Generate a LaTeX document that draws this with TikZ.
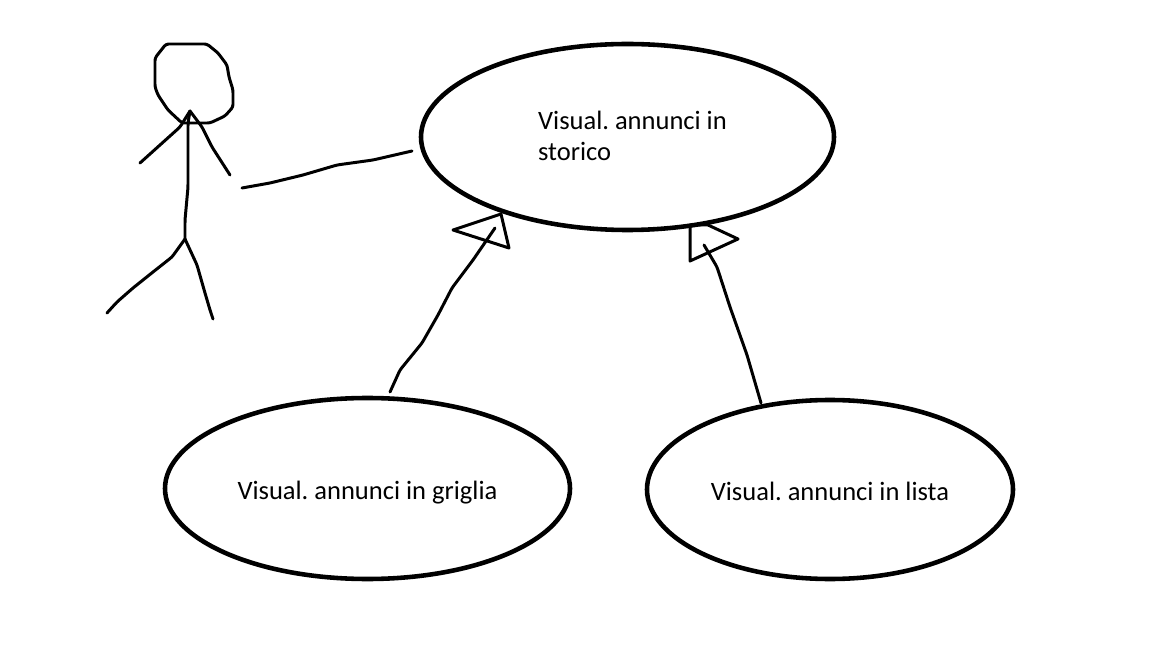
\documentclass[tikz,border=0pt]{standalone}
\usepackage{fontspec}
\setmainfont{Carlito}
\usetikzlibrary{shapes.geometric}
\tikzset{
  usecase/.style={draw=black, shape=ellipse, line width=2.6pt, inner sep=0pt, text height=0.46cm, text depth=0.02cm, font=\fontsize{15.1}{18}\selectfont\frenchspacing},
  usetext/.style={inner sep=0pt, align=left, font=\fontsize{15.1}{18}\selectfont\frenchspacing},
  stroke/.style={draw=black, line width=1.7pt, line cap=round, line join=round, rounded corners=1.5pt}
}
\begin{document}
\begin{tikzpicture}[x=0.02cm, y=-0.02cm]
  \useasboundingbox (0,0) rectangle (1152,648);
  \node [usecase, minimum width=413*0.02cm, minimum height=186*0.02cm] (storico) at (627.5,137) {};
  \node [usetext] (storicotext) at (632.5,136) {Visual. annunci in\\storico};
  \node [usecase, minimum width=405*0.02cm, minimum height=181*0.02cm] (griglia) at (367.5,488.5) {Visual. annunci in griglia};
  \node [usecase, minimum width=366*0.02cm, minimum height=179*0.02cm] (lista) at (830,489.5) {Visual. annunci in lista};
  \coordinate (neck) at (190,111);
  \coordinate (hip) at (185,239);
  \coordinate (linkstart) at (242,188);
  \coordinate (linkend) at (412,151);
  \coordinate (grigliastart) at (390,392);
  \coordinate (grigliatip) at (495,228);
  \coordinate (listastart) at (761,403);
  \coordinate (listatip) at (704,245);
  % actor
  \draw [stroke] (166,44) -- (207,44) -- (218,53) -- (227,65) -- (229,77) -- (233,90) -- (233,107) -- (225,116) -- (210,123) -- (182,123) -- (168,110) -- (158,95) -- (155,87) -- (155,58) -- cycle;
  \draw [stroke] (neck) -- (188,123) -- (188,187) -- (185,220) -- (hip);
  \draw [stroke] (neck) -- (180,127) -- (140,163);
  \draw [stroke] (neck) -- (202,127) -- (212,147) -- (230,175);
  \draw [stroke] (hip) -- (172,257) -- (153,272) -- (133,288) -- (117,302) -- (107,313);
  \draw [stroke] (hip) -- (197,265) -- (205,293) -- (210,310) -- (213,319);
  % link to the main use case
  \draw [stroke] (linkstart) -- (270,183) -- (303,175) -- (337,165) -- (373,160) -- (linkend);
  % generalisations
  \draw [stroke] (grigliastart) -- (400,370) -- (422,343) -- (438,315) -- (452,288) -- (473,260) -- (grigliatip);
  \draw [stroke, rounded corners=0pt] (453,230) -- (501,214) -- (509,248) -- cycle;
  \draw [stroke] (listastart) -- (747,355) -- (730,307) -- (717,267) -- (listatip);
  \draw [stroke, rounded corners=0pt] (690,225) -- (708,225) -- (738,239) -- (690,261) -- cycle;
\end{tikzpicture}
\end{document}
